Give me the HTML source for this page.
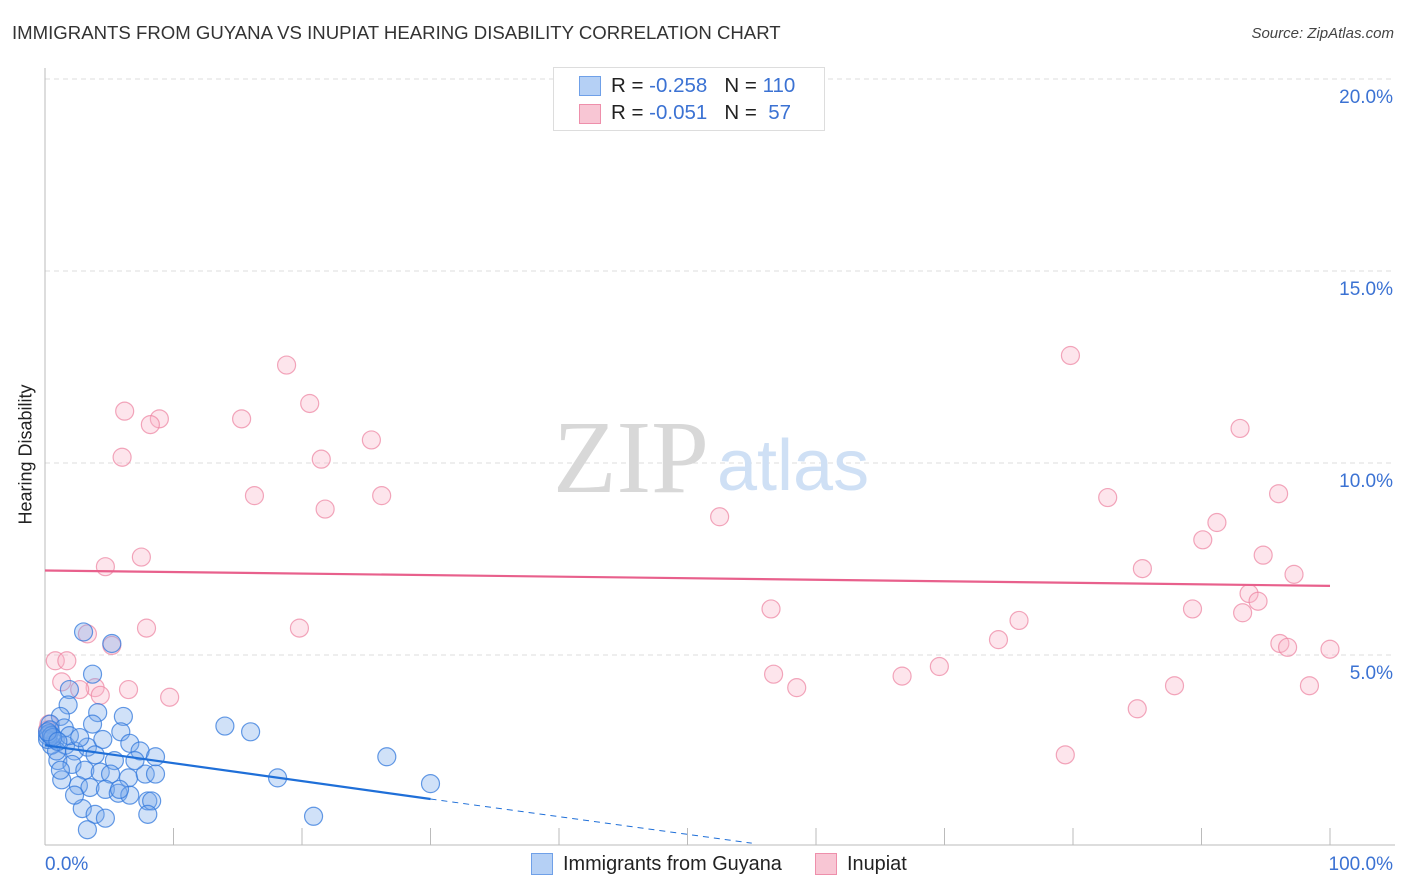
<!DOCTYPE html>
<html><head><meta charset="utf-8"><style>
body{margin:0;background:#fff;font-family:"Liberation Sans",sans-serif;}
#wrap{position:relative;width:1406px;height:892px;overflow:hidden;}
.t{position:absolute;white-space:nowrap;}
</style></head><body>
<div id="wrap">
<div class="t" style="left:12px;top:22px;font-size:18.6px;color:#333;">IMMIGRANTS FROM GUYANA VS INUPIAT HEARING DISABILITY CORRELATION CHART</div>
<div class="t" style="right:12px;top:25px;font-size:15px;color:#444;font-style:italic;">Source: ZipAtlas.com</div>
<svg id="svg" width="1406" height="892" style="position:absolute;left:0;top:0"></svg>
<div class="t" style="left:-44px;top:444px;font-size:18px;color:#222;transform:rotate(-90deg);">Hearing Disability</div>
<div style="position:absolute;left:553px;top:67px;width:270px;height:62px;border:1px solid #ddd;background:#fff;">
 <div style="position:absolute;left:25px;top:8px;width:20px;height:18px;background:#b5d0f5;border:1px solid #6fa0e8;"></div>
 <div class="t" style="left:57px;top:6px;font-size:20.5px;color:#222;">R = <span style="color:#3b72d3">-0.258</span>&nbsp;&nbsp;&nbsp;N = <span style="color:#3b72d3">110</span></div>
 <div style="position:absolute;left:25px;top:36px;width:20px;height:18px;background:#f8c6d4;border:1px solid #ee8fab;"></div>
 <div class="t" style="left:57px;top:33px;font-size:20.5px;color:#222;">R = <span style="color:#3b72d3">-0.051</span>&nbsp;&nbsp;&nbsp;N = &nbsp;<span style="color:#3b72d3">57</span></div>
</div>
<div style="position:absolute;left:531px;top:853px;width:20px;height:20px;background:#b5d0f5;border:1px solid #6fa0e8;"></div>
<div class="t" style="left:563px;top:853px;font-size:19.9px;color:#222;">Immigrants from Guyana</div>
<div style="position:absolute;left:815px;top:853px;width:20px;height:20px;background:#f8c6d4;border:1px solid #ee8fab;"></div>
<div class="t" style="left:847px;top:853px;font-size:19.9px;color:#222;">Inupiat</div>
</div>
<script>
const yTicks=[5,10,15,20];
const yTickLabels=["5.0%","10.0%","15.0%","20.0%"];
const xTickLabels=["0.0%","100.0%"];
const blueX=[3.0,5.2,3.7,1.9,1.8,4.1,1.2,6.1,3.7,5.9,14.0,16.0,0.2,0.8,1.6,2.3,3.3,4.5,6.6,7.4,8.6,1.0,2.1,3.1,4.3,5.4,5.1,6.5,7.8,8.6,1.3,2.6,3.5,4.7,5.7,6.6,8.0,8.3,2.9,3.9,4.7,3.3,8.0,18.1,26.6,30.0,20.9,0.4,0.5,0.9,1.5,1.9,2.7,3.9,1.2,2.3,5.8,7.0,0.4,0.2,0.3,0.5,0.6,0.2,1.0];
const blueY=[5.6,5.3,4.5,4.1,3.7,3.5,3.4,3.4,3.2,3.0,3.15,3.0,2.9,2.8,2.65,2.5,2.6,2.8,2.7,2.5,2.35,2.25,2.15,2.0,1.95,2.25,1.9,1.8,1.9,1.9,1.75,1.6,1.55,1.5,1.4,1.35,1.2,1.2,1.0,0.85,0.75,0.45,0.85,1.8,2.35,1.65,0.8,3.2,2.65,2.5,3.1,2.9,2.85,2.4,2.0,1.35,1.5,2.25,3.05,2.8,2.95,2.9,2.85,3.0,2.75];
const pinkX=[18.8,20.6,6.2,8.9,8.2,15.3,25.4,6.0,21.5,16.3,26.2,21.8,4.7,7.5,7.9,19.8,3.3,5.2,0.8,1.7,1.3,3.9,2.7,4.3,6.5,9.7,0.2,79.8,93.0,82.7,96.0,52.5,91.2,90.1,94.8,85.4,97.2,93.7,94.4,56.5,89.3,93.2,75.8,74.2,96.1,96.7,100.0,69.6,56.7,66.7,58.5,87.9,98.4,85.0,79.4,47.2,0.3];
const pinkY=[12.55,11.55,11.35,11.15,11.0,11.15,10.6,10.15,10.1,9.15,9.15,8.8,7.3,7.55,5.7,5.7,5.55,5.25,4.85,4.85,4.3,4.15,4.1,3.95,4.1,3.9,3.05,12.8,10.9,9.1,9.2,8.6,8.45,8.0,7.6,7.25,7.1,6.6,6.4,6.2,6.2,6.1,5.9,5.4,5.3,5.2,5.15,4.7,4.5,4.45,4.15,4.2,4.2,3.6,2.4,19.65,3.2];
const pinkTrend=[7.2,6.8];
const blueTrend=[2.65,1.25,0.1];
const blueTrendX=[0,30,55];
const NS="http://www.w3.org/2000/svg";
const svg=document.getElementById('svg');
const sx=v=>45+v*12.85, sy=v=>847-v*38.4;
function mk(t,a){const e=document.createElementNS(NS,t);for(const k in a)e.setAttribute(k,a[k]);svg.appendChild(e);return e;}
yTicks.forEach((v,i)=>{
 const g=mk('line',{x1:45,x2:1395,y1:sy(v),y2:sy(v),stroke:'#ddd','stroke-dasharray':'5,4'});
 
 
 const t=mk('text',{x:1393,y:sy(v)+24,'text-anchor':'end','font-size':19,fill:'#3b72d3','font-family':'Liberation Sans'});
 t.textContent=yTickLabels[i];
 
 
});
for(let i=1;i<=10;i++){
 const l=mk('line',{x1:sx(i*10),x2:sx(i*10),y1:828,y2:845,stroke:'#bbb'});
 
 
}
const ax=mk('line',{x1:45,x2:45,y1:68,y2:845,stroke:'#bbb'});


const bx=mk('line',{x1:45,x2:1395,y1:845,y2:845,stroke:'#bbb'});


[[0,45,'start'],[1,1393,'end']].forEach(([i,x,a])=>{
 const t=mk('text',{x:x,y:870,'text-anchor':a,'font-size':19,fill:'#3b72d3','font-family':'Liberation Sans'});
 t.textContent=xTickLabels[i];
 
 
});
const w1=mk('text',{x:553,y:492,'font-size':104,fill:'#d8d8d8','font-family':'Liberation Serif'});
w1.textContent='ZIP';


const w2=mk('text',{x:717,y:490,'font-size':72,fill:'#cfe0f5','font-family':'Liberation Sans'});
w2.textContent='atlas';


pinkX.forEach((v,i)=>{
 const c=mk('circle',{cx:sx(v),cy:sy(pinkY[i]),r:9,fill:'rgba(248,180,200,0.35)',stroke:'rgba(236,130,160,0.7)','stroke-width':1.2});
 
 
});
blueX.forEach((v,i)=>{
 const c=mk('circle',{cx:sx(v),cy:sy(blueY[i]),r:9,fill:'rgba(120,170,235,0.35)',stroke:'rgba(50,120,220,0.75)','stroke-width':1.2});
 
 
});
const pl=mk('line',{x1:sx(0),x2:sx(100),y1:sy(pinkTrend[0]),y2:sy(pinkTrend[1]),stroke:'#e8608c','stroke-width':2.2});


const bl=mk('line',{x1:sx(blueTrendX[0]),x2:sx(blueTrendX[1]),y1:sy(blueTrend[0]),y2:sy(blueTrend[1]),stroke:'#1f6fd8','stroke-width':2.2});


const bd=mk('line',{x1:sx(blueTrendX[1]),x2:sx(blueTrendX[2]),y1:sy(blueTrend[1]),y2:sy(blueTrend[2]),stroke:'#1f6fd8','stroke-width':1,'stroke-dasharray':'6,5'});


</script>
</body></html>
